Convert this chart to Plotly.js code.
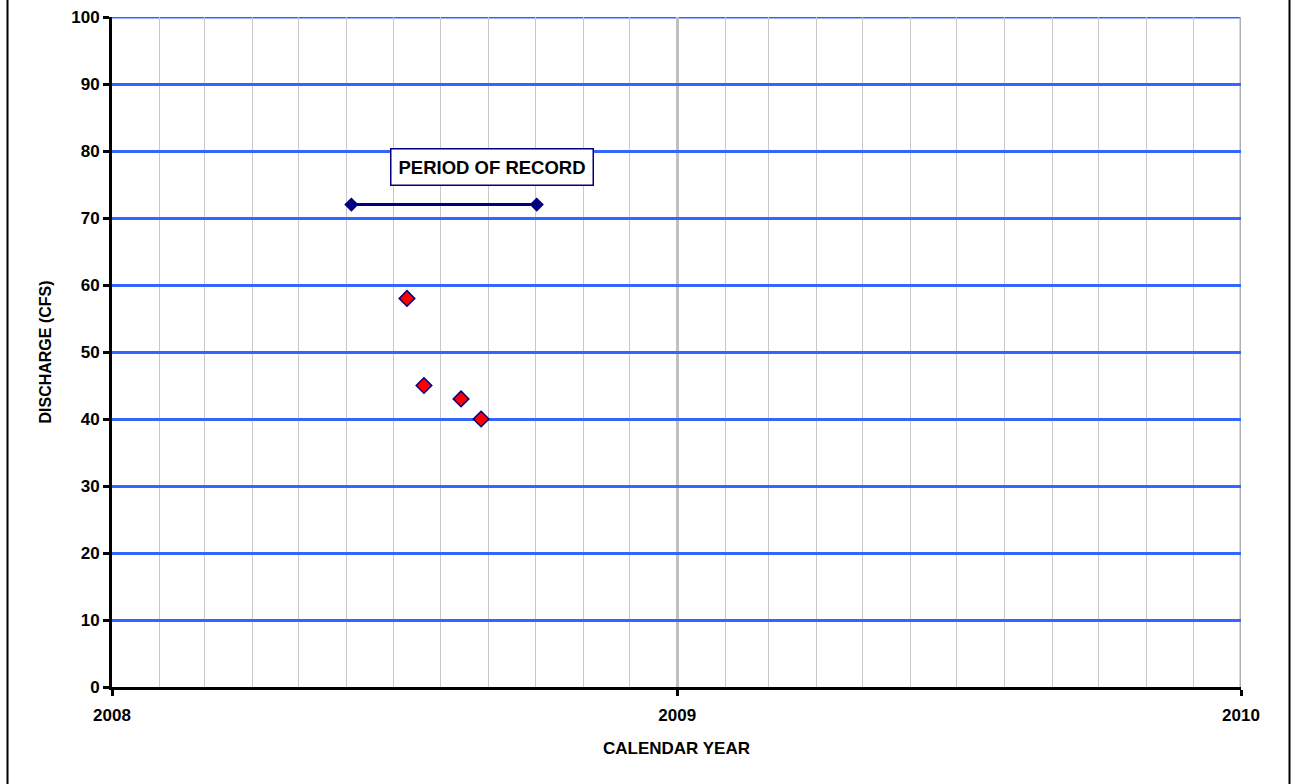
<!DOCTYPE html>
<html><head><meta charset="utf-8">
<script src="https://cdn.plot.ly/plotly-3.0.1.min.js"></script>
<style>html,body{margin:0;padding:0;background:#fff}#chart{width:1293px;height:784px}</style>
</head><body><div id="chart"></div>
<script>
const periodDates = ["2008-06-04", "2008-10-02"];
const periodValues = [72, 72];
const measDates = ["2008-07-10", "2008-07-21", "2008-08-14", "2008-08-27"];
const measValues = [58, 45, 43, 40];
const yearTicks = ["2008-01-01", "2009-01-01", "2010-01-01"];
const yearLabels = ["2008", "2009", "2010"];
const annText = "PERIOD OF RECORD";
const annX = "2008-09-03", annY = 77.6;

const F = "Arial, 'Liberation Sans', sans-serif";
const data = [
  {x: periodDates, y: periodValues, type: "scatter", mode: "lines+markers",
   line: {color: "#000080", width: 3},
   marker: {symbol: "diamond", size: 11, color: "#000080"}, showlegend: false},
  {x: measDates, y: measValues, type: "scatter", mode: "markers",
   marker: {symbol: "diamond", size: 12, color: "#ff0000", line: {color: "#000080", width: 1.5}}, showlegend: false}
];
const layout = {
  width: 1293, height: 784,
  margin: {l: 112, r: 52, t: 17, b: 97},
  paper_bgcolor: "#fff", plot_bgcolor: "#fff",
  font: {family: F, color: "#000"},
  xaxis: {type: "date", range: ["2008-01-01", "2010-01-01"],
    tickvals: yearTicks, ticktext: yearLabels,
    showgrid: true, gridcolor: "#c0c0c0", gridwidth: 3,
    minor: {dtick: "M1", tick0: "2008-01-01", showgrid: true, gridcolor: "#c8c8c8", gridwidth: 1},
    showline: true, linecolor: "#000", linewidth: 3, ticks: "outside", ticklen: 6, tickwidth: 3, tickcolor: "#000",
    ticklabelstandoff: 5,
    tickfont: {family: F, size: 17, color: "#000", weight: "bold"},
    title: {text: "<b>CALENDAR YEAR</b>", font: {family: F, size: 17, color: "#000"}, standoff: 18},
    zeroline: false, fixedrange: true},
  yaxis: {range: [0, 100], dtick: 10, tick0: 0,
    showgrid: true, gridcolor: "#3366ff", gridwidth: 3,
    showline: true, linecolor: "#000", linewidth: 3, ticks: "outside", ticklen: 6, tickwidth: 3, tickcolor: "#000",
    tickfont: {family: F, size: 17, color: "#000", weight: "bold"},
    title: {text: "<b>DISCHARGE (CFS)</b>", font: {family: F, size: 16, color: "#000"}, standoff: 16},
    zeroline: false, fixedrange: true},
  annotations: [{x: annX, y: annY, xref: "x", yref: "y", text: "<b>" + annText + "</b>", showarrow: false,
    font: {family: F, size: 18.5, color: "#000"}, bgcolor: "#fff", bordercolor: "#000080", borderwidth: 1.5, borderpad: 7}]
};
const plotW = 1293 - 112 - 52;
const xl = (7.5 - 112) / plotW, xr = (1289.5 - 112) / plotW;
layout.shapes = [
  {type: "line", xref: "paper", yref: "paper", x0: xl, x1: xl, y0: -0.2, y1: 1.1, line: {color: "#000", width: 2}},
  {type: "line", xref: "paper", yref: "paper", x0: xr, x1: xr, y0: -0.2, y1: 1.1, line: {color: "#000", width: 2}},
  {type: "line", xref: "paper", yref: "y", x0: 0, x1: 1, y0: 100, y1: 100, line: {color: "#3366ff", width: 3}, layer: "below"},
  {type: "line", xref: "x", yref: "paper", x0: yearTicks[2], x1: yearTicks[2], y0: 0, y1: 1, line: {color: "#b0b0b0", width: 3}, layer: "below"}
];
Plotly.newPlot("chart", data, layout, {displayModeBar: false, staticPlot: true});
</script></body></html>
